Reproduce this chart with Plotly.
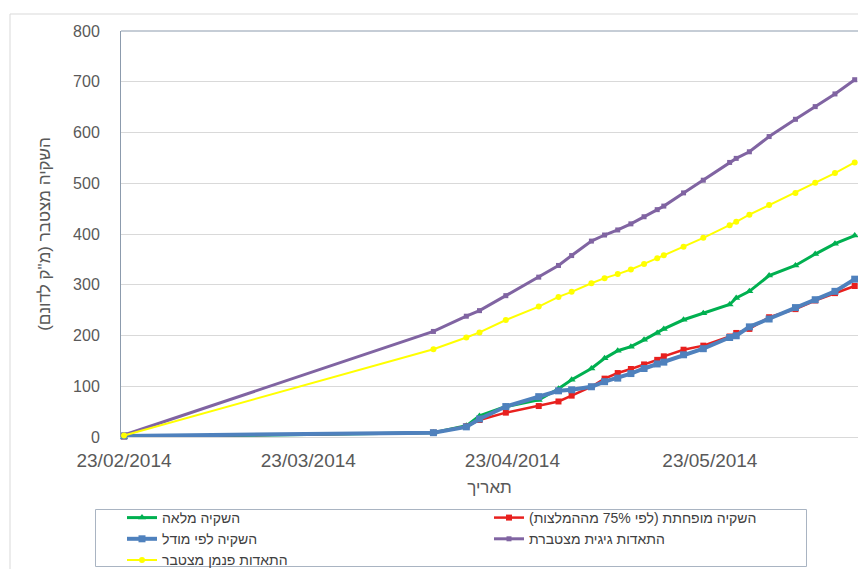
import plotly.graph_objects as go

# ---- data ----
dates = ["2014-02-23", "2014-04-11", "2014-04-16", "2014-04-18", "2014-04-22",
         "2014-04-27", "2014-04-30", "2014-05-02", "2014-05-05", "2014-05-07",
         "2014-05-09", "2014-05-11", "2014-05-13", "2014-05-15", "2014-05-16",
         "2014-05-19", "2014-05-22", "2014-05-26", "2014-05-27", "2014-05-29",
         "2014-06-01", "2014-06-05", "2014-06-08", "2014-06-11", "2014-06-14"]

full_irrigation = [0, 8.5, 22, 41.5, 60, 73, 95, 113, 135, 155, 170, 178, 191.5,
                   205, 213, 231, 244, 261, 274, 287, 318, 338, 360.5, 381, 397]
reduced_irrigation = [1, 8.5, 21, 33.5, 48, 61, 70, 81.5, 99, 115, 126, 134, 143,
                      152, 159, 172, 180, 198, 205, 213, 236, 252, 269, 283.5, 297.5]
model_irrigation = [2, 8.5, 20, 35.5, 60, 79.5, 91, 93, 99, 109, 116, 125, 135,
                    144, 147.5, 162, 174, 196, 199.5, 217, 232.5, 255, 270.5, 287, 311]
pan_evap_cum = [4, 208, 238, 249, 278.5, 315, 338, 357.5, 386, 398, 408, 420, 434,
                448, 455, 481, 506, 541, 549, 562, 592, 626, 651, 676, 704]
penman_evap_cum = [3, 173, 196, 206, 230.5, 257, 276, 286, 303, 313, 321, 330, 341,
                   352, 358, 375, 392.5, 417, 424, 438, 457, 481, 501, 520, 541]

tick_vals = ["2014-02-23", "2014-03-23", "2014-04-23", "2014-05-23"]
tick_text = ["23/02/2014", "23/03/2014", "23/04/2014", "23/05/2014"]

names = ["השקיה מלאה",
         "השקיה מופחתת (לפי 75% מההמלצות)\u200f",
         "השקיה לפי מודל",
         "התאדות גיגית מצטברת",
         "התאדות פנמן מצטבר"]

# ---- figure ----
W, H = 858, 569
L, R, T, B = 121, 0, 31, 132
PW, PH = W - L - R, H - T - B

def px(x):
    return (x - L) / PW

def py(y):
    return (H - B - y) / PH

fig = go.Figure()
specs = [
    (full_irrigation, "#00B050", 3, "triangle-up", 7, 1),
    (reduced_irrigation, "#E8201E", 2.5, "square", 6, 2),
    (model_irrigation, "#4F81BD", 4, "square", 7, 3),
    (pan_evap_cum, "#8064A2", 3, "square", 5, 4),
    (penman_evap_cum, "#FFFF00", 2, "circle", 6, 5),
]
for (vals, col, lw, sym, ms, rank), name in zip(specs, names):
    fig.add_trace(go.Scatter(
        x=dates, y=vals, name=name, mode="lines+markers",
        line=dict(color=col, width=lw),
        marker=dict(symbol=sym, size=ms, color=col),
        cliponaxis=False, legendrank=rank,
    ))

shapes = [
    # outer chart border (left + top)
    dict(type="line", xref="paper", yref="paper", x0=px(10), x1=px(10), y0=py(14), y1=py(H + 5),
         line=dict(color="#D9D9D9", width=1)),
    dict(type="line", xref="paper", yref="paper", x0=px(10), x1=px(W + 5), y0=py(14), y1=py(14),
         line=dict(color="#D9D9D9", width=1)),
    # plot area top border
    dict(type="line", xref="paper", yref="paper", x0=0, x1=1, y0=1, y1=1,
         line=dict(color="#8C9BAD", width=1)),
    # legend box
    dict(type="rect", xref="paper", yref="paper", x0=px(95.5), x1=px(806.5), y0=py(509.5), y1=py(566.5),
         line=dict(color="#A9B4C2", width=1), fillcolor="rgba(0,0,0,0)"),
]

fig.update_layout(
    width=W, height=H,
    margin=dict(l=L, r=R, t=T, b=B),
    paper_bgcolor="white", plot_bgcolor="white",
    font=dict(family="Liberation Sans, Arial, sans-serif", color="#595959"),
    shapes=shapes,
    showlegend=True,
    legend=dict(
        orientation="h", xref="container", yref="container",
        x=122 / W, y=1 - 502 / H, xanchor="left", yanchor="top",
        entrywidth=322, entrywidthmode="pixels",
        font=dict(size=14, color="#404040"),
        bgcolor="rgba(0,0,0,0)", borderwidth=0, tracegroupgap=0,
    ),
    xaxis=dict(
        type="date",
        range=["2014-02-22 13:00", "2014-06-14 12:00"],
        tickvals=tick_vals, ticktext=tick_text,
        showgrid=False, showline=False, zeroline=False, ticks="",
        tickfont=dict(size=19, color="#595959"),
        ticklabelstandoff=10,
        title=dict(text="תאריך", font=dict(size=17, color="#595959"), standoff=11),
    ),
    yaxis=dict(
        range=[0, 800], dtick=100,
        showgrid=True, gridcolor="#D9D9D9", gridwidth=1,
        zeroline=True, zerolinecolor="#D9D9D9", zerolinewidth=1,
        showline=True, linecolor="#8C9BAD", linewidth=1,
        ticks="", tickfont=dict(size=16, color="#595959"),
        ticklabelstandoff=17,
        title=dict(text="השקיה מצטבר (מ\"ק לדונם)\u200f", font=dict(size=17, color="#595959"), standoff=18),
    ),
)

fig.write_html(
    "out.html",
    config={"displayModeBar": False},
    post_script="document.body.style.margin='0';document.body.style.overflow='hidden';",
)
